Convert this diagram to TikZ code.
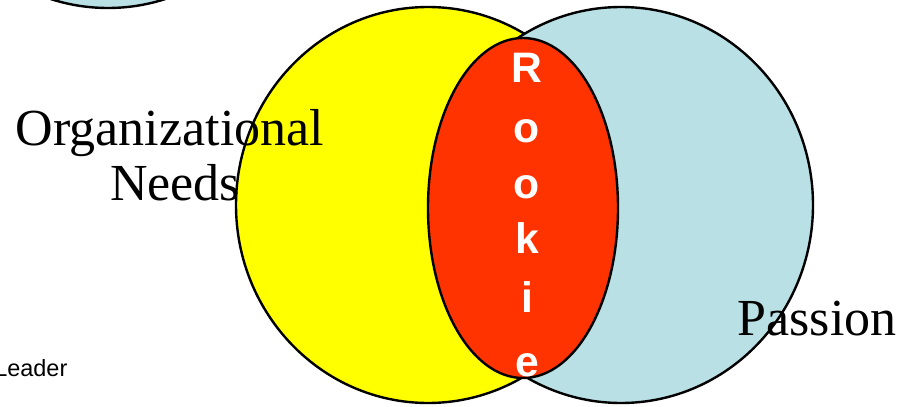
\documentclass[tikz,border=0pt]{standalone}
\usepackage{fontspec}
\setmainfont{Liberation Serif}
\newfontfamily\arialfont{Liberation Sans}
\usepackage{tikz}
\usetikzlibrary{shapes.geometric,positioning}

\definecolor{needsyellow}{RGB}{255,255,0}
\definecolor{passionblue}{RGB}{185,224,228}
\definecolor{rookiered}{RGB}{255,51,0}

\begin{document}
\begin{tikzpicture}[
    x=0.75pt, y=-0.75pt,
    venn/.style={draw=black, line width=1.8pt, ellipse, inner sep=0pt, minimum width=288pt, minimum height=297pt},
    core/.style={draw=black, line width=1.8pt, ellipse, inner sep=0pt, minimum width=142.5pt, minimum height=255pt, fill=rookiered},
    letter/.style={anchor=base, text=white, font=\arialfont\bfseries\fontsize{32}{32}\selectfont, inner sep=0pt},
    label/.style={anchor=base, inner sep=0pt, font=\fontsize{39}{41}\selectfont}
]
\useasboundingbox (0,0) rectangle (900,407);

% circles
\node[venn, fill=passionblue] (other) at (108,-190) {};
\node[venn, fill=needsyellow] (needs) at (428,205) {};
\node[venn, fill=passionblue] (passion) at (621,205) {};
\node[core] (rookie) at (523,208) {};

% letters of the overlap
\foreach \ch/\yy in {R/82, o/142, o/198, k/253, i/312, e/376}
    \node[letter] (ch-\yy) at (527,\yy) {\ch};

% labels
\node[label] (orglabel) at (170,145) {Organizational};
\node[label] (needslabel) at (175,200) {Needs};
\node[label] (passionlabel) at (817,335) {Passion};
\node[anchor=base west, inner sep=0pt, font=\arialfont\fontsize{17.6}{18}\selectfont] (leader) at (-6,376) {Leader};
\end{tikzpicture}
\end{document}
